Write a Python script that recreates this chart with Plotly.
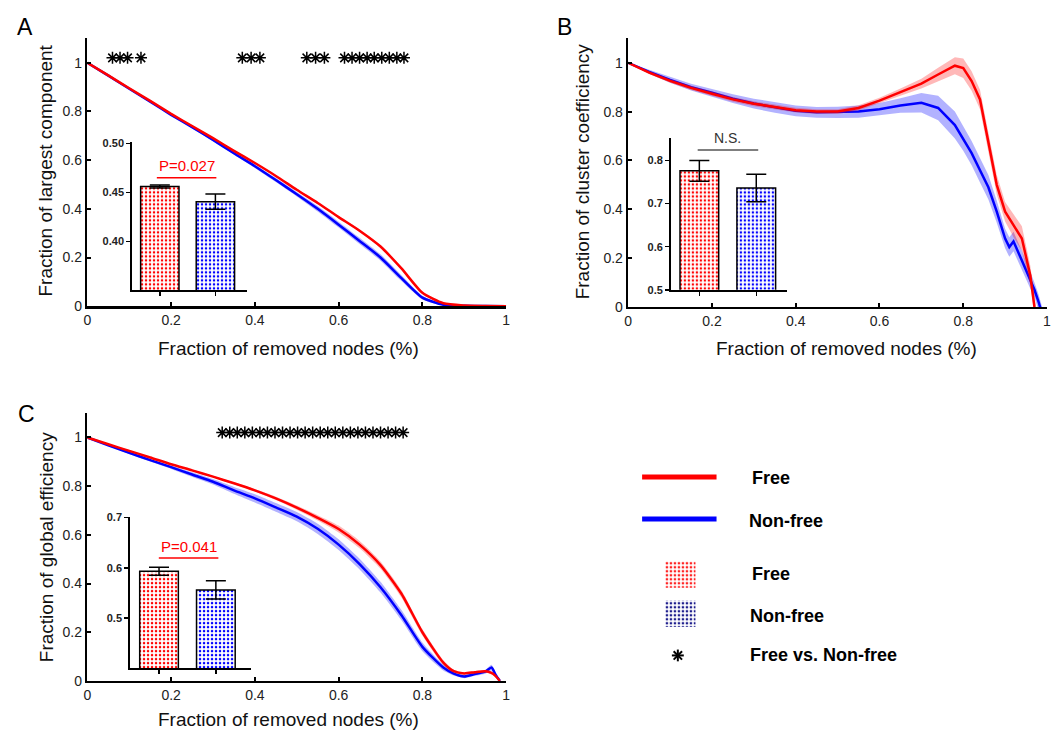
import plotly.graph_objects as go
import math

W, H = 1052, 738

# ---------------- data ----------------
# Panel A: fraction of largest component
A_x = [0, 0.05, 0.1, 0.15, 0.2, 0.25, 0.3, 0.35, 0.4, 0.45, 0.5, 0.55, 0.6, 0.65, 0.7, 0.75, 0.8, 0.85, 0.9, 0.95, 1.0]
A_free = [1.0, 0.948, 0.895, 0.843, 0.79, 0.74, 0.69, 0.638, 0.588, 0.535, 0.478, 0.424, 0.366, 0.31, 0.245, 0.155, 0.055, 0.012, 0.003, 0.001, 0.0]
A_free_sem = [0, 0.002, 0.002, 0.002, 0.003, 0.003, 0.003, 0.003, 0.003, 0.003, 0.004, 0.004, 0.004, 0.005, 0.005, 0.005, 0.004, 0.002, 0.001, 0, 0]
A_nonfree = [1.0, 0.947, 0.893, 0.84, 0.786, 0.735, 0.683, 0.628, 0.575, 0.518, 0.46, 0.40, 0.335, 0.268, 0.20, 0.115, 0.035, 0.006, 0.002, 0.001, 0.0]
A_nonfree_sem = [0, 0.002, 0.003, 0.003, 0.004, 0.004, 0.005, 0.006, 0.007, 0.008, 0.009, 0.011, 0.012, 0.013, 0.013, 0.012, 0.008, 0.004, 0.002, 0.001, 0]
A_star_x = [0.060, 0.078, 0.096, 0.128, 0.370, 0.391, 0.412, 0.524, 0.545, 0.566,
            0.614, 0.632, 0.650, 0.668, 0.685, 0.703, 0.721, 0.739, 0.756]

# Panel B: fraction of cluster coefficiency
B_x = [0, 0.05, 0.1, 0.15, 0.2, 0.25, 0.3, 0.35, 0.4, 0.45, 0.5, 0.55, 0.6, 0.65, 0.7, 0.74, 0.78,
       0.8, 0.82, 0.84, 0.86, 0.88, 0.9, 0.91, 0.92, 0.94, 0.96, 0.97, 0.98, 0.99]
B_free = [1.0, 0.96, 0.926, 0.897, 0.873, 0.85, 0.832, 0.818, 0.806, 0.80, 0.80, 0.815, 0.845, 0.88, 0.915, 0.952, 0.988,
          0.978, 0.925, 0.85, 0.68, 0.50, 0.39, 0.36, 0.335, 0.28, 0.13, 0.0, -0.1, -0.2]
B_free_sem = [0, 0.006, 0.008, 0.009, 0.01, 0.01, 0.01, 0.01, 0.01, 0.01, 0.01, 0.011, 0.012, 0.015, 0.02, 0.028, 0.035,
              0.04, 0.04, 0.04, 0.04, 0.04, 0.04, 0.045, 0.05, 0.05, 0.04, 0.03, 0.02, 0.02]
B_nonfree = [1.0, 0.963, 0.93, 0.90, 0.877, 0.853, 0.833, 0.817, 0.803, 0.797, 0.797, 0.80, 0.81, 0.825, 0.836, 0.815, 0.745,
             0.69, 0.63, 0.56, 0.49, 0.39, 0.28, 0.245, 0.268, 0.19, 0.11, 0.07, 0.02, -0.04]
B_nonfree_sem = [0, 0.008, 0.012, 0.014, 0.016, 0.018, 0.02, 0.022, 0.022, 0.022, 0.023, 0.025, 0.025, 0.03, 0.04, 0.05, 0.055,
                 0.05, 0.05, 0.05, 0.05, 0.045, 0.04, 0.04, 0.04, 0.04, 0.035, 0.03, 0.03, 0.03]

# Panel C: fraction of global efficiency
C_x = [0, 0.05, 0.1, 0.15, 0.2, 0.25, 0.3, 0.35, 0.4, 0.45, 0.5, 0.55, 0.6, 0.65, 0.7, 0.75, 0.8, 0.85,
       0.875, 0.9, 0.925, 0.95, 0.965, 0.975, 0.985]
C_free = [1.0, 0.972, 0.945, 0.918, 0.89, 0.865, 0.839, 0.812, 0.783, 0.75, 0.712, 0.67, 0.624, 0.56, 0.476, 0.358, 0.20, 0.075,
          0.04, 0.031, 0.036, 0.04, 0.033, 0.02, 0.0]
C_free_sem = [0, 0.002, 0.003, 0.003, 0.003, 0.003, 0.003, 0.004, 0.005, 0.007, 0.009, 0.011, 0.014, 0.015, 0.015, 0.015, 0.013, 0.01,
              0.006, 0.005, 0.005, 0.005, 0.006, 0.004, 0]
C_nonfree = [1.0, 0.968, 0.937, 0.907, 0.878, 0.848, 0.818, 0.783, 0.75, 0.713, 0.675, 0.625, 0.56, 0.48, 0.385, 0.27, 0.14, 0.055,
             0.03, 0.018, 0.028, 0.038, 0.055, 0.025, 0.0]
C_nonfree_sem = [0, 0.003, 0.005, 0.006, 0.007, 0.009, 0.011, 0.014, 0.017, 0.018, 0.019, 0.021, 0.022, 0.022, 0.022, 0.021, 0.018, 0.012,
                 0.008, 0.007, 0.007, 0.008, 0.012, 0.006, 0]
C_star_x = [0.322, 0.340, 0.358, 0.376, 0.394, 0.412, 0.430, 0.448, 0.466, 0.484, 0.502, 0.520, 0.538,
            0.556, 0.574, 0.592, 0.610, 0.628, 0.646, 0.664, 0.682, 0.700, 0.718, 0.736, 0.754]
star_level = 1.02

# Insets: group means with SEM
groups = ["Free", "Non-free"]
A_bar = [0.456, 0.4405]
A_bar_sem = [0.0015, 0.0078]
B_bar = [0.776, 0.736]
B_bar_sem = [0.024, 0.032]
C_bar = [0.593, 0.556]
C_bar_sem = [0.008, 0.018]

main_ticks = [0, 0.2, 0.4, 0.6, 0.8, 1]

RED = "#ff0000"
BLUE = "#0000ff"
RED_BAND = "rgba(255,0,0,0.28)"
BLUE_BAND = "rgba(0,0,255,0.30)"
FONT = "Liberation Sans, Arial, sans-serif"


def px(p):
    return p / W


def py(p):
    return 1 - p / H


fig = go.Figure()


def add_curves(x, m, s, color, band, xa, ya, shape):
    up = [a + b for a, b in zip(m, s)]
    lo = [a - b for a, b in zip(m, s)]
    fig.add_trace(go.Scatter(x=list(x) + list(x)[::-1], y=up + lo[::-1], fill="toself",
                             fillcolor=band, line=dict(width=0, shape=shape, smoothing=0.6), mode="lines",
                             hoverinfo="skip", showlegend=False, xaxis=xa, yaxis=ya))
    fig.add_trace(go.Scatter(x=x, y=m, mode="lines",
                             line=dict(color=color, width=2.5, shape=shape, smoothing=0.6),
                             showlegend=False, xaxis=xa, yaxis=ya))


for (xs, f, fs, n, ns, xa, ya, shp) in [
    (A_x, A_free, A_free_sem, A_nonfree, A_nonfree_sem, "x", "y", "spline"),
    (B_x, B_free, B_free_sem, B_nonfree, B_nonfree_sem, "x2", "y2", "linear"),
    (C_x, C_free, C_free_sem, C_nonfree, C_nonfree_sem, "x3", "y3", "spline"),
]:
    add_curves(xs, n, ns, BLUE, BLUE_BAND, xa, ya, shp)
    add_curves(xs, f, fs, RED, RED_BAND, xa, ya, shp)

# significance stars
for sx, xa, ya in [(A_star_x, "x", "y"), (C_star_x, "x3", "y3")]:
    fig.add_trace(go.Scatter(x=sx, y=[star_level] * len(sx), mode="markers",
                             marker=dict(symbol="asterisk-open", size=10, color="black",
                                         line=dict(color="black", width=1.5)),
                             showlegend=False, xaxis=xa, yaxis=ya, cliponaxis=False))

# inset bars
pat = dict(shape=".", bgcolor=[RED, BLUE], fgcolor=["white", "white"], size=4, solidity=0.3,
           fillmode="replace")
for vals, sems, xa, ya, bw in [(A_bar, A_bar_sem, "x4", "y4", 0.69),
                                (B_bar, B_bar_sem, "x5", "y5", 0.68),
                                (C_bar, C_bar_sem, "x6", "y6", 0.68)]:
    fig.add_trace(go.Bar(x=groups, y=vals, width=bw,
                         marker=dict(color=[RED, BLUE], pattern=pat, line=dict(color="black", width=1.5)),
                         error_y=dict(type="data", array=sems, visible=True, color="black",
                                      thickness=1.5, width=10),
                         showlegend=False, xaxis=xa, yaxis=ya))

# legend patches (horizontal bars on a hidden axis)
fig.add_trace(go.Bar(y=[0, 1], x=[1, 1], orientation="h", width=0.68,
                     marker=dict(color=["#ff2020", "#1c1c8c"],
                                 pattern=dict(shape=".", bgcolor=["#ff2020", "#1c1c8c"],
                                              fgcolor=["white", "white"], size=4, solidity=0.35,
                                              fillmode="replace"),
                                 line=dict(width=0)),
                     showlegend=False, xaxis="x7", yaxis="y7"))

# ---------------- axes ----------------
tickfont = dict(family=FONT, size=14, color="#222")
main_common = dict(showline=True, linecolor="black", linewidth=2.5, ticks="inside", ticklen=4,
                   tickwidth=2, tickcolor="black", showgrid=False, zeroline=False,
                   tickfont=tickfont, tickvals=main_ticks, fixedrange=True)

layout = dict(
    width=W, height=H, margin=dict(l=0, r=0, t=0, b=0),
    paper_bgcolor="white", plot_bgcolor="rgba(0,0,0,0)",
    showlegend=False, barmode="group",
    xaxis=dict(domain=[px(84), px(506)], range=[0, 1], anchor="y", **main_common),
    yaxis=dict(domain=[py(306), py(33)], range=[0, 1.1], anchor="x", **main_common),
    xaxis2=dict(domain=[px(629), px(1051)], range=[0, 1], anchor="y2", **main_common),
    yaxis2=dict(domain=[py(306.7), py(33)], range=[0, 1.1], anchor="x2", **main_common),
    xaxis3=dict(domain=[px(84), px(506)], range=[0, 1], anchor="y3", **main_common),
    yaxis3=dict(domain=[py(688), py(415)], range=[0, 1.1], anchor="x3", **main_common),
)

inset_font = dict(family=FONT, size=11, color="#222", weight="bold")
inset_x = dict(showline=True, linecolor="black", linewidth=1.8, ticks="outside", ticklen=4,
               tickwidth=1.5, tickcolor="black", showticklabels=False, showgrid=False,
               zeroline=False, type="category", fixedrange=True)
inset_y = dict(showline=True, linecolor="black", linewidth=1.8, ticks="outside", ticklen=4,
               tickwidth=1.5, tickcolor="black", showgrid=False, zeroline=False,
               tickfont=inset_font, fixedrange=True)

layout.update(
    xaxis4=dict(domain=[px(129), px(245)], range=[-0.5, 1.571], anchor="y4", **inset_x),
    yaxis4=dict(domain=[py(290), py(139)], range=[0.35, 0.501], anchor="x4",
                tickvals=[0.40, 0.45, 0.50], tickformat=".2f", **inset_y),
    xaxis5=dict(domain=[px(672), px(789)], range=[-0.5, 1.54], anchor="y5", **inset_x),
    yaxis5=dict(domain=[py(289.3), py(135)], range=[0.5, 0.851], anchor="x5",
                tickvals=[0.5, 0.6, 0.7, 0.8], tickformat=".1f", **inset_y),
    xaxis6=dict(domain=[px(127), px(249)], range=[-0.51, 1.62], anchor="y6", **inset_x),
    yaxis6=dict(domain=[py(675), py(521)], range=[0.4, 0.701], anchor="x6",
                tickvals=[0.5, 0.6, 0.7], tickformat=".1f", **inset_y),
    xaxis7=dict(domain=[px(666), px(697)], range=[0, 1], anchor="y7", visible=False, fixedrange=True),
    yaxis7=dict(domain=[py(633), py(566)], range=[1.34, -0.34], anchor="x7", visible=False, fixedrange=True),
)
fig.update_layout(**layout)

# ---------------- annotations ----------------
ann = []


def txt(x, y, s, size, color="black", angle=0, xanchor="center", weight="normal"):
    ann.append(dict(x=px(x), y=py(y), xref="paper", yref="paper", text=s, showarrow=False,
                    xanchor=xanchor, yanchor="middle", textangle=angle,
                    font=dict(family=FONT, size=size, color=color, weight=weight)))


# panel letters
txt(11, 21, "A", 23, xanchor="left")
txt(555, 21, "B", 23, xanchor="left")
txt(12, 416, "C", 23, xanchor="left")

# axis titles
xt = "Fraction of removed nodes (%)"
txt(287, 349, xt, 19, color="#111")
txt(849, 349, xt, 19, color="#111")
txt(287, 727, xt, 19, color="#111")
txt(42, 168, "Fraction of largest component", 19, color="#111", angle=-90)
txt(583, 169, "Fraction of cluster coefficiency", 19, color="#111", angle=-90)
txt(43, 552, "Fraction of global efficiency", 19, color="#111", angle=-90)

# inset significance labels
txt(184, 163, "P=0.027", 15, color=RED)
txt(729, 135, "N.S.", 14, color="#333")
txt(186, 551, "P=0.041", 15, color=RED)

# legend labels
txt(752, 481, "Free", 18, xanchor="left", weight="bold")
txt(749, 525, "Non-free", 18, xanchor="left", weight="bold")
txt(752, 579, "Free", 18, xanchor="left", weight="bold")
txt(750, 622, "Non-free", 18, xanchor="left", weight="bold")
txt(750, 662, "Free vs. Non-free", 18, xanchor="left", weight="bold")

shapes = []


def seg(x0, y0, x1, y1, color, width):
    shapes.append(dict(type="line", xref="paper", yref="paper", x0=px(x0), x1=px(x1),
                       y0=py(y0), y1=py(y1), line=dict(color=color, width=width)))


seg(154, 175, 214, 175, RED, 1.5)
seg(699, 146.7, 760, 146.7, "#555", 1.5)
seg(156, 562.7, 216, 562.7, RED, 1.5)
seg(643, 480, 718, 480, RED, 5)
seg(643, 523, 718, 523, BLUE, 5)

# legend asterisk symbol
cx, cy, r = 679, 662, 6
for ang in (0, 45, 90, 135):
    dx = r * math.cos(math.radians(ang))
    dy = r * math.sin(math.radians(ang))
    seg(cx - dx, cy - dy, cx + dx, cy + dy, "black", 2)

fig.update_layout(annotations=ann, shapes=shapes)
fig.write_html("out.html",
               config={"displayModeBar": False, "staticPlot": True},
               post_script="document.body.style.margin='0';document.body.style.padding='0';"
                           "document.body.style.overflow='hidden';")
